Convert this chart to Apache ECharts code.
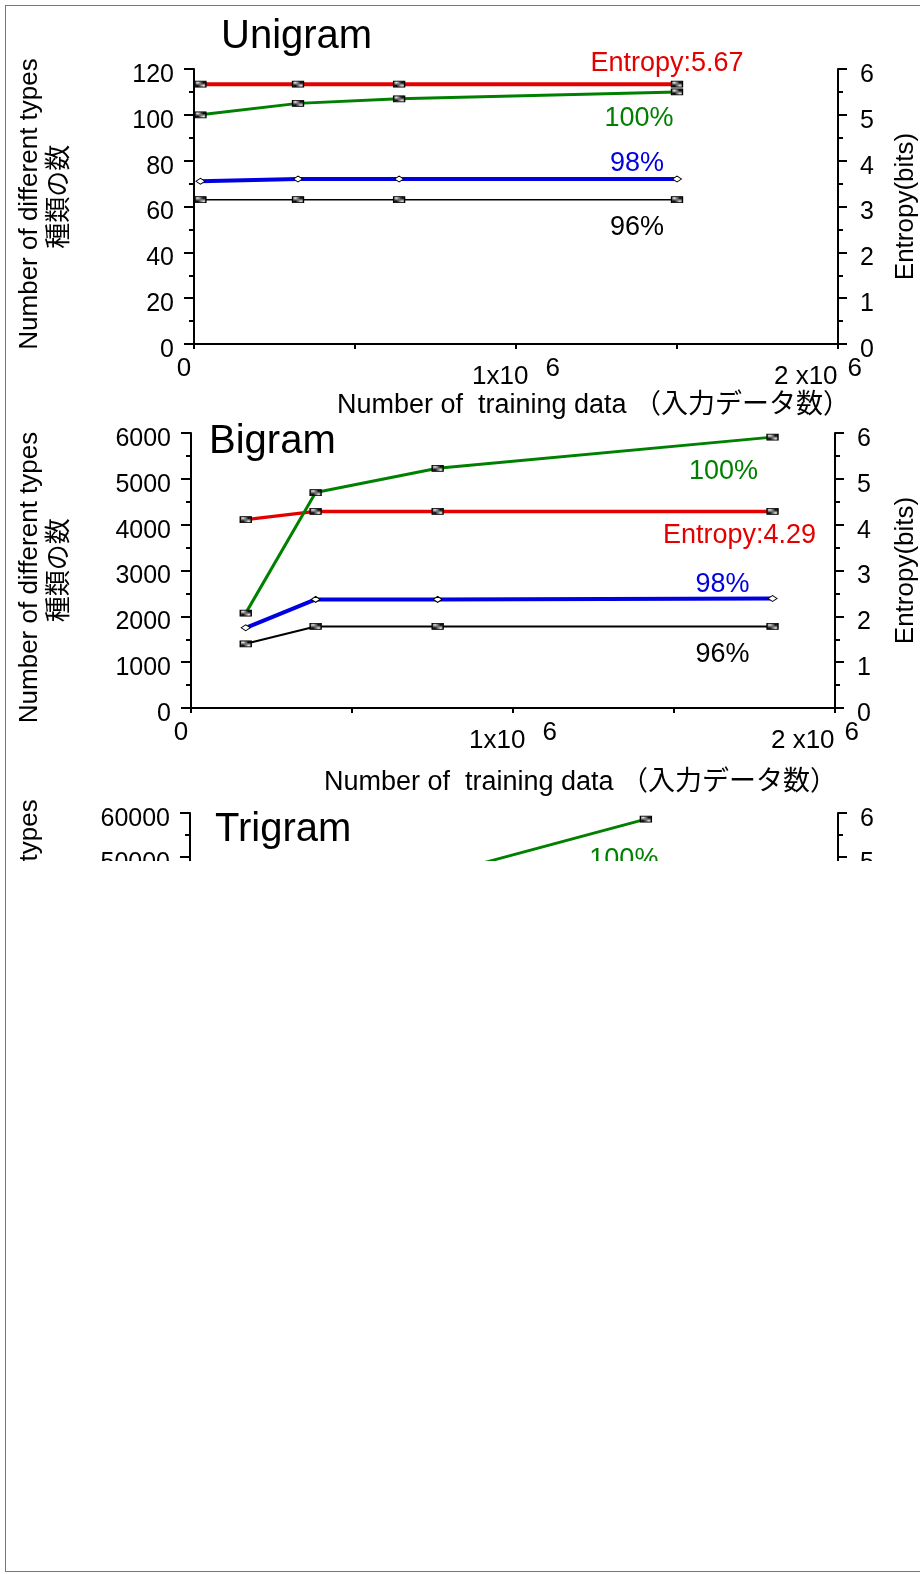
<!DOCTYPE html>
<html><head><meta charset="utf-8">
<script src="https://cdn.jsdelivr.net/npm/echarts@6/dist/echarts.min.js"></script>
<style>
html,body{margin:0;padding:0;background:#fff;width:920px;height:1574px;overflow:hidden;position:relative}
#chart{position:absolute;left:0;top:0;width:920px;height:1574px;}
#cover{position:absolute;left:6px;top:861px;width:914px;height:709px;background:#fff}
#frame{position:absolute;left:5px;top:5px;width:940px;height:1565px;border-left:1px solid #777;border-top:1px solid #777;border-bottom:1px solid #777;pointer-events:none}
</style></head>
<body>
<div id="chart"></div>
<div id="cover"></div>
<div id="frame"></div>
<script>
// ---------- data ----------
const panelTitles = ['Unigram', 'Bigram', 'Trigram'];
const yName = 'Number of different types\n  種類の数';
const y2Name = 'Entropy(bits)';
const xName = 'Number of  training data （入力データ数）';
const xTickValues = [0, 1000000, 2000000];
const xTickText = ['0', '1x10', '2 x10'];
const xTickExp = ['', '6', '6'];

const uniX = [20000, 323000, 637000, 1500000];
const uniEntropy = [5.67, 5.67, 5.67, 5.67];
const uni100 = [100, 105, 107, 110];
const uni98 = [71, 72, 72, 72];
const uni96 = [63, 63, 63, 63];
const uniLabels = ['Entropy:5.67', '100%', '98%', '96%'];

const biX = [170000, 387000, 766000, 1806000];
const biEntropy = [4.11, 4.29, 4.29, 4.29];
const bi100 = [2070, 4700, 5230, 5910];
const bi98 = [1750, 2370, 2370, 2390];
const bi96 = [1400, 1780, 1780, 1780];
const biLabels = ['Entropy:4.29', '100%', '98%', '96%'];

const triX = [170000, 390000, 770000, 1407000];
const tri100 = [20000, 33000, 46000, 58600];
const triLabels = ['100%'];

const leftMax = [120, 6000, 60000];
const leftInterval = [20, 1000, 10000];

// ---------- styling / layout ----------
const FONT = '"Liberation Sans", Arial, "Noto Sans CJK JP", sans-serif';
const RED = '#e30000', GREEN = '#008000', BLUE = '#0000e0', BLACK = '#000';

const pc = document.createElement('canvas'); pc.width = 3; pc.height = 3;
const c2 = pc.getContext('2d');
c2.fillStyle = '#eeeeee'; c2.fillRect(0, 0, 3, 3);
c2.strokeStyle = '#000'; c2.lineWidth = 1.6;
c2.beginPath(); c2.moveTo(-1, 4); c2.lineTo(4, -1); c2.stroke();
const hatch = {image: pc, repeat: 'repeat'};

const grids = [
  {left: 194, top: 69, width: 644, height: 275, outerBoundsMode: 'none', containLabel: false},
  {left: 191, top: 433, width: 644, height: 275, outerBoundsMode: 'none', containLabel: false},
  {left: 190, top: 813, width: 648, height: 264, outerBoundsMode: 'none', containLabel: false}
];
const titlePos = [{left: 221, top: 17}, {left: 209, top: 422}, {left: 215, top: 810}];
const yNameGap = [119, 116, 115];
const yNamePad = [[0, 0, 0, 5], [0, 14, 0, 0], [0, 0, 0, 0]];
const y2NameGap = [55, 58, 55];
const xNameGap = [48, 61, 61];
const xNamePad = [155, 135, 135];

function xFmt(v) {
  const k = xTickValues.indexOf(v);
  if (k < 0) return '';
  if (k === 0) return '{z|' + xTickText[k] + '}';
  if (k === xTickValues.length - 1) return '{m|' + xTickText[k] + '}{t|' + xTickExp[k] + '}';
  return '{m|' + xTickText[k] + '}{s|' + xTickExp[k] + '}';
}
const xs = {fontSize: 26, lineHeight: 26, fontFamily: FONT, color: '#000'};
const xRich = {
  z: Object.assign({padding: [0, 20, 8, 0]}, xs),
  m: Object.assign({padding: [8, 0, 0, 0]}, xs),
  s: Object.assign({padding: [0, 0, 8, 17]}, xs),
  t: Object.assign({padding: [0, 40, 8, 10]}, xs)
};
function yFmt(v) { return '{a|' + String(v) + '}'; }
const yRich = {a: {fontSize: 25, lineHeight: 25, padding: [12, 0, 0, 0], fontFamily: FONT, color: '#000'}};

const axLine = {show: true, onZero: false, lineStyle: {color: '#000', width: 2}};
const tickSt = {lineStyle: {color: '#000', width: 2}};

const option = {
  animation: false,
  backgroundColor: '#fff',
  textStyle: {fontFamily: FONT},
  title: panelTitles.map((t, i) => ({
    text: t, left: titlePos[i].left, top: titlePos[i].top, padding: 0,
    textStyle: {fontSize: 40, fontWeight: 'normal', color: '#000', fontFamily: FONT}
  })),
  grid: grids,
  xAxis: grids.map((g, i) => ({
    gridIndex: i, type: 'value', min: 0, max: 2000000, interval: 500000,
    axisLine: axLine, axisTick: Object.assign({length: 5}, tickSt),
    splitLine: {show: false},
    axisLabel: {margin: 16, formatter: xFmt, rich: xRich},
    name: xName, nameLocation: 'middle', nameGap: xNameGap[i],
    nameTextStyle: {fontSize: 27, color: '#000', fontFamily: FONT, padding: [0, 0, 0, xNamePad[i]]}
  })),
  yAxis: [].concat(...grids.map((g, i) => [
    {
      gridIndex: i, type: 'value', min: 0, max: leftMax[i], interval: leftInterval[i], position: 'left',
      axisLine: axLine, axisTick: Object.assign({length: 10}, tickSt),
      minorTick: {show: true, splitNumber: 2, length: 5, lineStyle: {color: '#000', width: 2}},
      splitLine: {show: false},
      axisLabel: {margin: 20, formatter: yFmt, rich: yRich},
      name: yName, nameLocation: 'middle', nameRotate: 90, nameGap: yNameGap[i],
      nameTextStyle: {fontSize: 26, lineHeight: 30, color: '#000', fontFamily: FONT, align: 'center', padding: yNamePad[i]}
    },
    {
      gridIndex: i, type: 'value', min: 0, max: 6, interval: 1, position: 'right',
      axisLine: axLine, axisTick: Object.assign({length: 9}, tickSt),
      minorTick: {show: true, splitNumber: 2, length: 5, lineStyle: {color: '#000', width: 2}},
      splitLine: {show: false},
      axisLabel: {margin: 22, formatter: yFmt, rich: yRich},
      name: y2Name, nameLocation: 'middle', nameRotate: 90, nameGap: y2NameGap[i],
      nameTextStyle: {fontSize: 26, color: '#000', fontFamily: FONT}
    }
  ])),
  series: []
};

function mk(xv, ys, gi, right, color, width, symbol, size, label, off) {
  const data = xv.map((x, k) => {
    const d = {value: [x, ys[k]]};
    if (k === xv.length - 1 && label) {
      d.label = {show: true, position: 'inside', offset: off, formatter: label,
        color: color, fontSize: 27, fontFamily: FONT};
    }
    return d;
  });
  return {
    type: 'line', xAxisIndex: gi, yAxisIndex: gi * 2 + (right ? 1 : 0),
    data: data, symbol: symbol, symbolSize: size, showSymbol: true,
    lineStyle: {color: color, width: width},
    itemStyle: symbol === 'diamond' ? {color: '#fff', borderColor: '#000', borderWidth: 1}
                                     : {color: hatch, borderColor: '#000', borderWidth: 1},
    label: {show: false}, emphasis: {disabled: true}, z: 3
  };
}

option.series.push(
  mk(uniX, uni96, 0, false, BLACK, 1.5, 'rect', [11, 6], uniLabels[3], [-40, 28]),
  mk(uniX, uni98, 0, false, BLUE, 4, 'diamond', [9, 6], uniLabels[2], [-40, -15]),
  mk(uniX, uni100, 0, false, GREEN, 3, 'rect', [11, 6], uniLabels[1], [-38, 27]),
  mk(uniX, uniEntropy, 0, true, RED, 4, 'rect', [11, 6], uniLabels[0], [-10, -21]),
  mk(biX, bi96, 1, false, BLACK, 2, 'rect', [11, 6], biLabels[3], [-50, 28]),
  mk(biX, bi98, 1, false, BLUE, 4, 'diamond', [9, 6], biLabels[2], [-50, -14]),
  mk(biX, biEntropy, 1, true, RED, 3.5, 'rect', [11, 6], biLabels[0], [-33, 24]),
  mk(biX, bi100, 1, false, GREEN, 3, 'rect', [11, 6], biLabels[1], [-49, 34]),
  mk(triX, tri100, 2, false, GREEN, 3, 'rect', [11, 6], triLabels[0], [-22, 40])
);

const chart = echarts.init(document.getElementById('chart'), null, {renderer: 'canvas'});
chart.setOption(option);
</script>
</body></html>
